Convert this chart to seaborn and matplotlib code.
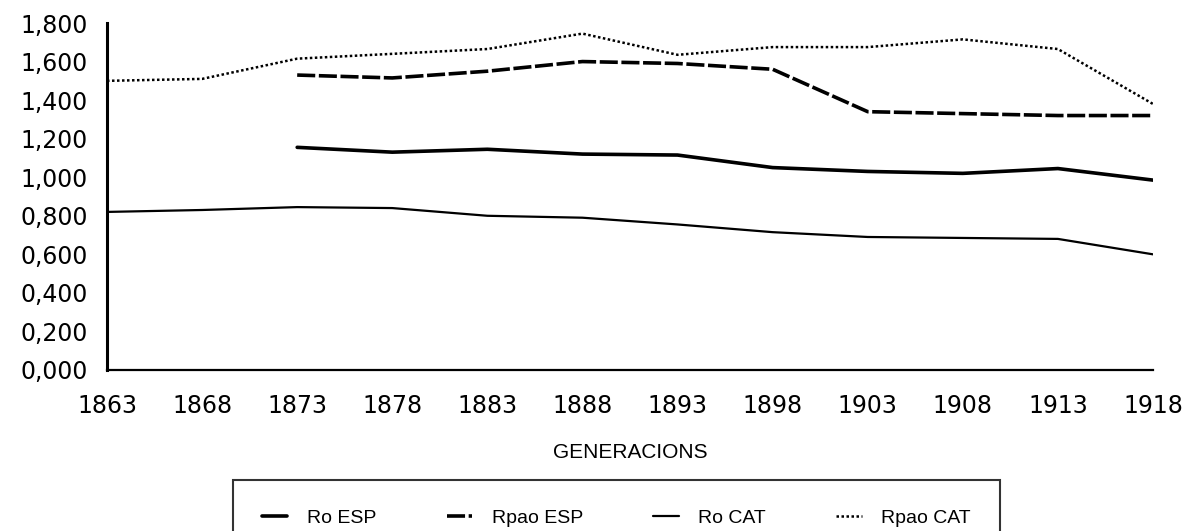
#!/usr/bin/env python3
"""Ro / Rpao per generacions, Espanya i Catalunya."""

import matplotlib

matplotlib.use("Agg")

import matplotlib.pyplot as plt
import numpy as np
import seaborn as sns
from matplotlib.ticker import FixedLocator, FuncFormatter

YEARS = [1863, 1868, 1873, 1878, 1883, 1888, 1893, 1898, 1903, 1908, 1913, 1918]
RO_ESP = [np.nan, np.nan, 1.155, 1.13, 1.145, 1.12, 1.115, 1.05, 1.03, 1.02, 1.045, 0.985]
RPAO_ESP = [np.nan, np.nan, 1.53, 1.515, 1.55, 1.60, 1.59, 1.56, 1.34, 1.33, 1.32, 1.32]
RO_CAT = [0.82, 0.83, 0.845, 0.84, 0.80, 0.79, 0.755, 0.715, 0.69, 0.685, 0.68, 0.60]
RPAO_CAT = [1.50, 1.51, 1.615, 1.64, 1.665, 1.745, 1.635, 1.675, 1.675, 1.715, 1.665, 1.38]
SERIES_NAMES = ["Ro ESP", "Rpao ESP", "Ro CAT", "Rpao CAT"]
Y_TICKS = [0.0, 0.2, 0.4, 0.6, 0.8, 1.0, 1.2, 1.4, 1.6, 1.8]
X_LABEL = "GENERACIONS"

W, H = 1190, 531

sns.set_style("white")
plt.rcParams["font.family"] = ["DejaVu Sans"]
plt.rcParams["text.color"] = "black"
NARROW = ["Liberation Sans", "DejaVu Sans"]

fig = plt.figure(figsize=(W / 100, H / 100), dpi=100)
ax = fig.add_axes([107 / W, 1 - 370 / H, (1153 - 107) / W, (370 - 23) / H])

styles = [
    dict(linewidth=2.6, linestyle="-"),
    dict(linewidth=2.6, linestyle=(0, (5, 1))),
    dict(linewidth=1.6, linestyle="-"),
    dict(linewidth=1.8, linestyle=(0, (1, 1))),
]
for name, values, st in zip(SERIES_NAMES, [RO_ESP, RPAO_ESP, RO_CAT, RPAO_CAT], styles):
    sns.lineplot(x=YEARS, y=values, ax=ax, color="black", label=name, **st)

ax.set_xlim(YEARS[0], YEARS[-1])
ax.set_ylim(0, 1.8)
ax.xaxis.set_major_locator(FixedLocator(YEARS))
ax.yaxis.set_major_locator(FixedLocator(Y_TICKS))
ax.yaxis.set_major_formatter(FuncFormatter(lambda v, _: f"{v:.3f}".replace(".", ",")))

for side in ["top", "right"]:
    ax.spines[side].set_visible(False)
ax.spines["left"].set_linewidth(2.2)
ax.spines["bottom"].set_linewidth(1.6)
ax.spines["left"].set_color("black")
ax.spines["bottom"].set_color("black")

ax.tick_params(axis="y", direction="inout", length=8, width=2, pad=10, labelsize=17, colors="black")
ax.tick_params(axis="x", direction="in", length=6, width=1.5, pad=17, labelsize=17, colors="black")
ax.set_ylabel("")
ax.set_xlabel(X_LABEL, family=NARROW, fontsize=15, labelpad=18, color="black")

fig.legend(
    *ax.get_legend_handles_labels(),
    loc="upper left",
    bbox_to_anchor=(233 / W, 1 - 480 / H, (1000 - 233) / W, 0),
    mode="expand",
    ncol=4,
    frameon=True,
    fancybox=False,
    edgecolor="black",
    borderaxespad=0,
    borderpad=1.5,
    handlelength=1.3,
    handletextpad=1.0,
    prop={"family": NARROW, "size": 14},
)
ax.get_legend().remove()
fig.legends[0].get_frame().set_linewidth(1.5)

fig.savefig("out.png", dpi=100)
